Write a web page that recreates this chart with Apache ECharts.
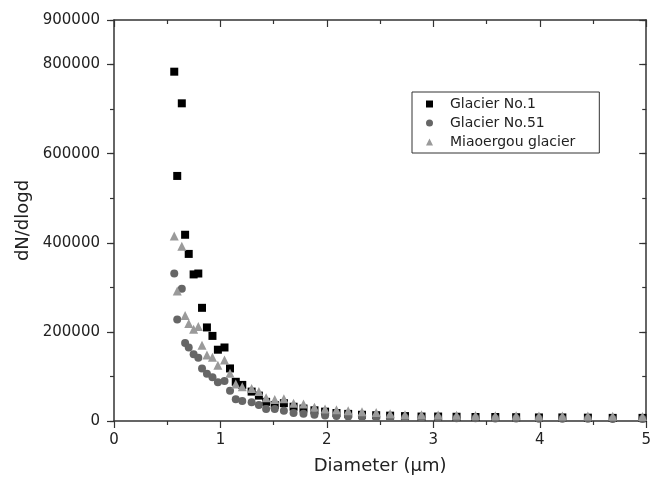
<!DOCTYPE html>
<html>
<head>
<meta charset="utf-8">
<title>dN/dlogd</title>
<script src="https://cdn.jsdelivr.net/npm/echarts@6/dist/echarts.min.js"></script>
<style>
    html, body {margin: 0; padding: 0; background: #fff;}
    #chart {width: 654px; height: 480px;}
</style>
</head>
<body>
<div id="chart"></div>
<script>
//---------------------------Data---------------------------
//diameter bins (um), shared by the three sites
let diameters = [0.566, 0.594, 0.637, 0.668, 0.702, 0.748, 0.792, 0.827, 0.873, 0.925,
    0.976, 1.038, 1.090, 1.144, 1.205, 1.293, 1.361, 1.429, 1.510, 1.596,
    1.687, 1.780, 1.883, 1.983, 2.090, 2.200, 2.330, 2.463, 2.594, 2.734,
    2.889, 3.045, 3.218, 3.396, 3.582, 3.778, 3.992, 4.212, 4.452, 4.685, 4.965];

//dN/dlogd
let glacierNo1 = [784000, 550000, 713000, 418000, 375000, 329000, 331000, 254000, 210000, 191000,
    160000, 165000, 118000, 88000, 81000, 66000, 57000, 43000, 36000, 40000,
    32000, 28000, 24000, 21000, 18000, 16000, 14000, 13000, 12000, 11000,
    10000, 10000, 9500, 9000, 9000, 8500, 8000, 8000, 7500, 7000, 7000];

let glacierNo51 = [331000, 228000, 297000, 175000, 165000, 150000, 142000, 118000, 106000, 98000,
    87000, 90000, 68000, 49000, 45000, 42000, 36000, 27000, 27000, 23000,
    18000, 16000, 14000, 12500, 11000, 10000, 9000, 8500, 8000, 7500,
    7000, 6500, 6000, 6000, 5500, 5500, 5000, 5000, 5000, 4500, 4500];

let miaoergou = [415000, 292000, 392000, 237000, 219000, 206000, 212000, 170000, 148000, 143000,
    125000, 137000, 107000, 83000, 77000, 73000, 66000, 52000, 48000, 50000,
    40000, 38000, 31000, 27000, 25000, 23000, 21000, 19000, 16000, 14000,
    14000, 13500, 13000, 12500, 12000, 12000, 11500, 11000, 11000, 10500, 10000];

let seriesNames = ["Glacier No.1", "Glacier No.51", "Miaoergou glacier"];

//---------------------------UI---------------------------
let chart = echarts.init(document.getElementById('chart'));

let font = "DejaVu Sans";
let axisColor = "#333";

function pairs(xs, ys) {
    let out = [];
    for (let i = 0; i < xs.length; i++) {
        out.push([xs[i], ys[i]]);
    }
    return out;
}

//x axis (bottom with labels, top as frame)
function xAxisOf(pos) {
    let bottom = pos == "bottom";
    return {
        type: "value",
        position: pos,
        min: 0,
        max: 5,
        interval: 1,
        name: bottom ? "Diameter (µm)" : "",
        nameLocation: "middle",
        nameGap: 36,
        nameTextStyle: {fontFamily: font, fontSize: 18, color: "#222"},
        axisLine: {show: true, onZero: false, lineStyle: {color: axisColor, width: 1.5}},
        axisTick: {show: true, inside: !bottom, length: 7, lineStyle: {color: axisColor, width: 1.2}},
        minorTick: {show: true, splitNumber: 2, length: 4, lineStyle: {color: axisColor, width: 1.2}},
        axisLabel: {show: bottom, fontFamily: font, fontSize: 15, color: "#222", margin: 12},
        splitLine: {show: false}
    };
}

//y axis: one for major ticks and labels, one for the short 100000 ticks
function yAxisOf(pos, interval, tickLen, labels, line) {
    let left = pos == "left";
    return {
        type: "value",
        position: pos,
        min: 0,
        max: 900000,
        interval: interval,
        name: labels ? "dN/dlogd" : "",
        nameLocation: "middle",
        nameGap: 72,
        nameTextStyle: {fontFamily: font, fontSize: 18, color: "#222"},
        axisLine: {show: line, onZero: false, lineStyle: {color: axisColor, width: 1.5}},
        axisTick: {show: true, inside: !left, length: tickLen, lineStyle: {color: axisColor, width: 1.2}},
        axisLabel: {
            show: labels, fontFamily: font, fontSize: 15, color: "#222", margin: 14,
            formatter: function (v) { return String(v); }
        },
        splitLine: {show: false}
    };
}

let option = {
    backgroundColor: "#fff",
    animation: false,
    grid: {left: 114, right: 4, top: 20, bottom: 58},
    legend: {
        orient: "vertical",
        left: 412,
        top: 92,
        data: seriesNames,
        borderColor: "#333",
        borderWidth: 1,
        borderRadius: 0,
        padding: [5, 24, 4, 14],
        itemWidth: 7,
        itemHeight: 7,
        itemGap: 5,
        textStyle: {fontFamily: font, fontSize: 14, color: "#222", padding: [0, 0, 0, 12]}
    },
    xAxis: [xAxisOf("bottom"), xAxisOf("top")],
    yAxis: [
        yAxisOf("left", 200000, 7, true, true),
        yAxisOf("left", 100000, 4, false, false),
        yAxisOf("right", 200000, 7, false, true),
        yAxisOf("right", 100000, 4, false, false)
    ],
    series: [
        {
            name: seriesNames[0],
            type: "scatter",
            symbol: "rect",
            symbolSize: 8,
            itemStyle: {color: "#000", opacity: 1},
            data: pairs(diameters, glacierNo1)
        },
        {
            name: seriesNames[1],
            type: "scatter",
            symbol: "circle",
            symbolSize: 8,
            itemStyle: {color: "#666", opacity: 1},
            data: pairs(diameters, glacierNo51)
        },
        {
            name: seriesNames[2],
            type: "scatter",
            symbol: "triangle",
            symbolSize: 9,
            itemStyle: {color: "#9a9a9a", opacity: 1},
            data: pairs(diameters, miaoergou)
        }
    ]
};

chart.setOption(option);
</script>
</body>
</html>
